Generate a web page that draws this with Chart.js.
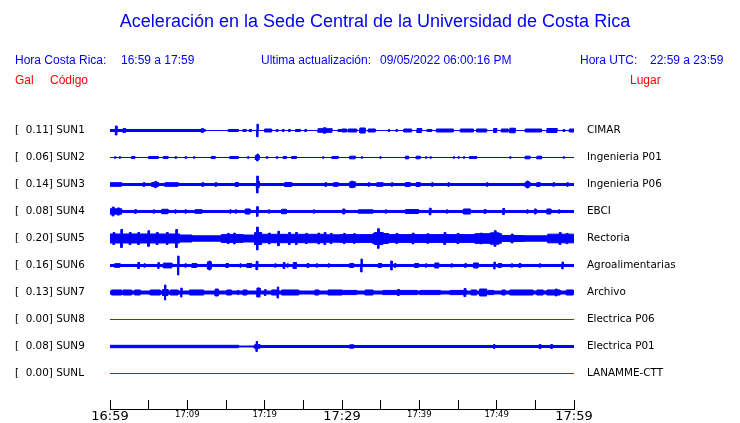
<!DOCTYPE html>
<html><head><meta charset="utf-8">
<style>html,body{margin:0;padding:0;background:#fff;}canvas{display:block;}</style>
<script src="https://cdn.jsdelivr.net/npm/chart.js@4/dist/chart.umd.min.js"></script>
</head><body>
<canvas id="c" width="740" height="423"></canvas>
<script>
// ---------- DATA ----------
const TITLE = 'Aceleración en la Sede Central de la Universidad de Costa Rica';
const HEAD_CR_LABEL = 'Hora Costa Rica:';
const HEAD_CR_VALUE = '16:59 a 17:59';
const HEAD_UPD_LABEL = 'Ultima actualización:';
const HEAD_UPD_VALUE = '09/05/2022 06:00:16 PM';
const HEAD_UTC_LABEL = 'Hora UTC:';
const HEAD_UTC_VALUE = '22:59 a 23:59';
const COL_GAL = 'Gal';
const COL_CODE = 'Código';
const COL_PLACE = 'Lugar';

const CODES  = ['SUN1','SUN2','SUN3','SUN4','SUN5','SUN6','SUN7','SUN8','SUN9','SUNL'];
const PEAKS  = [0.11, 0.06, 0.14, 0.08, 0.20, 0.16, 0.13, 0.00, 0.08, 0.00];
const PLACES = ['CIMAR','Ingenieria P01','Ingenieria P06','EBCI','Rectoria','Agroalimentarias','Archivo','Electrica P06','Electrica P01','LANAMME-CTT'];

const TICK_MINUTES = [0,5,10,15,20,25,30,35,40,45,50,55,60];
const TICK_LABELS  = ['16:59','','17:09','','17:19','','17:29','','17:39','','17:49','','17:59'];
const BIG_TICKS    = [0,30,60];

// envelope of each record, in Gal: background [startMin, endMin, halfAmp]
// and bursts [startMin, endMin, halfAmp] (minutes after 16:59)
const SUN1_BG = [[0,12.3,0.017],[12.3,60,0]];
const SUN1_BURSTS = [[0.7,0.9,0.075],[1.7,2.0,0.033],[11.8,12.1,0.03],[15.3,16.6,0.017],[17.2,17.6,0.017],[18.0,18.3,0.017],[19.0,19.15,0.105],[20.0,20.9,0.025],[21.5,21.7,0.017],[22.3,22.5,0.017],[23.1,23.3,0.017],[24.0,24.6,0.017],[25.2,25.4,0.017],[26.9,28.7,0.03],[27.6,27.9,0.045],[29.5,30.4,0.017],[30.0,30.6,0.025],[30.8,31.9,0.025],[32.3,33.0,0.042],[33.4,34.3,0.025],[36.0,36.15,0.017],[37.0,37.15,0.017],[38.0,39.0,0.025],[39.7,40.3,0.033],[41.0,41.6,0.017],[42.2,44.4,0.025],[45.3,47.0,0.025],[47.4,48.7,0.025],[49.6,50.0,0.033],[50.6,51.5,0.025],[51.7,52.4,0.038],[53.7,55.8,0.025],[56.5,57.8,0.033],[58.6,58.8,0.017],[59.4,60,0.025]];

const SUN2_BG = [[0,60,0]];
const SUN2_BURSTS = [[0.6,0.75,0.012],[1.2,1.35,0.012],[2.8,3.2,0.017],[5.0,6.25,0.017],[6.9,7.5,0.017],[8.4,8.6,0.012],[9.7,9.9,0.012],[10.8,10.95,0.012],[13.1,13.6,0.017],[15.5,16.6,0.017],[17.8,17.95,0.012],[18.8,19.3,0.035],[19.0,19.15,0.058],[20.2,20.4,0.012],[21.5,21.7,0.012],[22.4,22.8,0.017],[23.5,24.1,0.017],[27.5,27.65,0.012],[28.7,29.5,0.017],[31.0,31.7,0.022],[32.5,32.65,0.012],[34.9,35.05,0.012],[38.2,38.6,0.022],[39.6,40.1,0.022],[40.8,40.95,0.012],[41.4,41.55,0.012],[44.4,44.55,0.012],[45.0,45.15,0.012],[45.7,45.85,0.012],[46.5,47.4,0.017],[51.7,51.85,0.012],[53.7,54.3,0.022],[55.2,55.8,0.022],[58.6,58.75,0.012]];

const SUN3_BG = [[0,60,0.017]];
const SUN3_BURSTS = [[0,1.5,0.03],[4.3,4.5,0.03],[5.4,6.25,0.035],[5.8,6.0,0.053],[7.1,8.8,0.03],[11.9,12.1,0.03],[13.6,13.8,0.03],[16.2,16.6,0.033],[18.9,19.3,0.05],[19.0,19.15,0.14],[22.6,23.5,0.033],[27.8,28.0,0.03],[28.9,29.5,0.03],[31.0,31.7,0.045],[31.2,31.4,0.055],[33.4,33.55,0.03],[34.5,35.3,0.03],[36.4,36.55,0.03],[38.2,38.8,0.033],[39.6,40.1,0.033],[41.6,41.75,0.03],[43.7,43.85,0.03],[48.7,48.85,0.03],[53.7,54.3,0.04],[53.9,54.1,0.058],[55.2,55.6,0.033],[57.3,57.45,0.03],[59.1,59.25,0.03]];

const SUN4_BG = [[0,60,0.017]];
const SUN4_BURSTS = [[0,1.5,0.045],[0.3,0.5,0.075],[1.0,1.2,0.06],[3.2,3.4,0.03],[5.6,5.75,0.028],[6.7,7.5,0.037],[8.4,8.55,0.028],[9.7,9.85,0.028],[11.0,11.9,0.03],[15.5,15.65,0.028],[16.2,16.35,0.028],[17.5,18.1,0.042],[18.95,19.15,0.08],[20.5,20.65,0.028],[22.2,22.8,0.037],[26.3,26.45,0.028],[30.1,30.35,0.042],[32.1,34.0,0.028],[35.6,35.75,0.028],[38.2,39.9,0.033],[41.3,41.5,0.055],[43.5,43.65,0.028],[45.7,46.6,0.042],[48.4,48.6,0.033],[50.8,51.0,0.05],[53.9,54.05,0.028],[54.9,55.1,0.042],[56.5,57.0,0.042],[58.0,58.15,0.028]];

const SUN5_BG = [[0,9,0.075],[9,10.6,0.058],[10.6,14.4,0.045],[14.4,17.2,0.065],[17.2,18.8,0.058],[18.8,27.8,0.07],[27.8,29.7,0.062],[29.7,34,0.065],[34,36,0.083],[36,47.2,0.065],[47.2,50.6,0.08],[50.6,53.5,0.05],[53.5,56.6,0.045],[56.6,60,0.072]];
const SUN5_BURSTS = [[0.4,0.6,0.1],[1.4,1.6,0.15],[2.5,2.7,0.1],[3.6,3.8,0.1],[4.9,5.1,0.13],[6.0,6.2,0.1],[7.3,7.5,0.1],[8.5,8.7,0.15],[15.2,15.4,0.085],[16.0,16.2,0.09],[18.7,19.6,0.1],[18.95,19.15,0.19],[20.5,20.7,0.09],[21.7,21.9,0.12],[23.1,23.3,0.1],[24.0,24.2,0.1],[25.3,25.5,0.085],[26.9,27.1,0.09],[27.7,27.9,0.1],[28.5,28.7,0.085],[30.2,30.4,0.085],[31.5,31.7,0.08],[34.2,35.3,0.1],[34.6,34.8,0.163],[37.0,37.2,0.085],[39.1,39.3,0.09],[41.0,41.2,0.08],[43.2,43.4,0.1],[44.9,45.1,0.085],[47.9,48.1,0.09],[49.2,50.3,0.095],[49.7,49.9,0.13],[51.9,52.1,0.075],[58.1,58.3,0.1],[59.0,59.2,0.085]];

const SUN6_BG = [[0,60,0.017]];
const SUN6_BURSTS = [[0.6,1.3,0.03],[3.6,3.8,0.05],[4.4,4.55,0.028],[6.2,6.35,0.05],[6.9,8.0,0.04],[8.75,8.9,0.158],[9.7,9.85,0.028],[10.6,11.2,0.033],[12.6,13.1,0.06],[12.8,12.95,0.075],[15.0,15.3,0.033],[16.8,16.95,0.028],[17.7,18.3,0.033],[18.9,19.1,0.07],[21.3,21.45,0.028],[22.4,22.6,0.05],[22.9,23.05,0.028],[23.7,24.1,0.05],[25.5,25.7,0.033],[26.7,26.85,0.028],[28.2,28.35,0.028],[31.0,31.5,0.033],[32.45,32.6,0.108],[34.7,35.1,0.033],[36.3,36.5,0.075],[36.8,36.95,0.033],[39.4,39.9,0.033],[40.8,40.95,0.028],[42.0,42.5,0.042],[44.1,44.25,0.028],[45.9,46.05,0.033],[47.0,47.6,0.042],[49.65,49.8,0.058],[50.2,50.6,0.033],[51.9,52.05,0.028],[52.9,53.1,0.033],[55.5,55.65,0.028],[58.45,58.6,0.058]];

const SUN7_BG = [[0,60,0.025]];
const SUN7_BURSTS = [[0.2,1.5,0.042],[1.7,2.8,0.042],[3.2,3.9,0.042],[5.2,6.5,0.042],[6.8,7.5,0.05],[7.05,7.2,0.125],[7.8,8.8,0.042],[9.15,9.3,0.075],[10.3,12.1,0.042],[13.6,14.0,0.058],[15.1,15.7,0.042],[16.5,16.65,0.035],[17.2,17.7,0.042],[19.0,19.4,0.075],[20.0,20.15,0.05],[20.9,21.6,0.042],[21.65,21.8,0.092],[22.2,24.4,0.042],[26.5,27.0,0.042],[28.2,30.0,0.042],[29.7,31.9,0.035],[33.0,34.0,0.042],[35.3,39.7,0.035],[37.2,37.4,0.05],[40.1,42.7,0.035],[44.0,46.1,0.035],[45.8,46.0,0.067],[46.7,47.4,0.042],[47.8,48.7,0.058],[48.9,49.6,0.035],[50.7,51.1,0.042],[51.7,54.7,0.042],[55.2,56.0,0.042],[56.5,58.2,0.042],[57.6,57.8,0.058],[59.0,59.9,0.042]];

const SUN8_BG = null;
const SUN8_BURSTS = null;

const SUN9_BG = [[0,16.6,0.02],[16.6,18.6,0.008],[18.6,60,0.017]];
const SUN9_BURSTS = [[18.7,19.4,0.03],[18.9,19.05,0.083],[31.0,31.5,0.028],[49.6,49.75,0.033],[55.5,55.7,0.033],[57.0,57.2,0.033]];

const SUNL_BG = null;
const SUNL_BURSTS = null;

// ---------- BUILD ----------
const TRACE_BG = [SUN1_BG,SUN2_BG,SUN3_BG,SUN4_BG,SUN5_BG,SUN6_BG,SUN7_BG,SUN8_BG,SUN9_BG,SUNL_BG];
const TRACE_BURSTS = [SUN1_BURSTS,SUN2_BURSTS,SUN3_BURSTS,SUN4_BURSTS,SUN5_BURSTS,SUN6_BURSTS,SUN7_BURSTS,SUN8_BURSTS,SUN9_BURSTS,SUNL_BURSTS];

const ROW = 0.45;           // Gal between record baselines
const BLUE = '#0000ff';
const RED_LINE = '#e00000';

function steps(bg, bursts){
  const segs = bg.concat(bursts);
  const cuts = new Set([0,60]);
  segs.forEach(s => { cuts.add(s[0]); cuts.add(s[1]); });
  const xs = [...cuts].filter(v => v >= 0 && v <= 60).sort((a,b)=>a-b);
  const out = [];
  for (let k = 0; k < xs.length-1; k++){
    const a = xs[k], b = xs[k+1], mid = (a+b)/2;
    let amp = 0;
    segs.forEach(s => { if (s[0] <= mid && mid < s[1] && s[2] > amp) amp = s[2]; });
    if (out.length && out[out.length-1][2] === amp) out[out.length-1][1] = b;
    else out.push([a,b,amp]);
  }
  return out;
}

const datasets = [];
CODES.forEach((code, i) => {
  const off = -i*ROW;
  const bg = TRACE_BG[i];
  if (!bg){
    datasets.push({label: code, data: [{x:0,y:off},{x:60,y:off}], borderColor: RED_LINE, borderWidth: 1, pointRadius: 0, fill: false, xAxisID:'x', yAxisID:'y'});
    return;
  }
  const st = steps(bg, TRACE_BURSTS[i]);
  const up = [], lo = [];
  st.forEach(s => {
    up.push({x:s[0], y:off+s[2]}, {x:s[1], y:off+s[2]});
    lo.push({x:s[0], y:off-s[2]}, {x:s[1], y:off-s[2]});
  });
  datasets.push({label: code, data: up, borderColor: BLUE, backgroundColor: BLUE, borderWidth: 1, pointRadius: 0, tension: 0, fill: '+1', xAxisID:'x', yAxisID:'y'});
  datasets.push({label: code, data: lo, borderColor: BLUE, backgroundColor: BLUE, borderWidth: 1, pointRadius: 0, tension: 0, fill: false, xAxisID:'x', yAxisID:'y'});
});

// half-pixel shift so 1px traces land on whole pixel rows
const crispPlugin = {
  id: 'crisp',
  beforeDatasetsDraw(chart){ chart.ctx.save(); chart.ctx.translate(0, 0.5); },
  afterDatasetsDraw(chart){ chart.ctx.restore(); }
};

const textPlugin = {
  id: 'headerTexts',
  afterDraw(chart){
    const c = chart.ctx;
    c.save();
    c.textBaseline = 'middle';
    c.fillStyle = BLUE;
    c.font = '18px "Liberation Sans"';
    c.textAlign = 'center';
    c.fillText(TITLE, 375, 22);
    c.textAlign = 'left';
    c.font = '12px "Liberation Sans"';
    c.fillText(HEAD_CR_LABEL, 15, 61);
    c.fillText(HEAD_CR_VALUE, 121, 61);
    c.fillText(HEAD_UPD_LABEL, 261, 61);
    c.fillText(HEAD_UPD_VALUE, 380, 61);
    c.fillText(HEAD_UTC_LABEL, 580, 61);
    c.fillText(HEAD_UTC_VALUE, 650, 61);
    c.fillStyle = '#ff0000';
    c.fillText(COL_GAL, 15, 81);
    c.fillText(COL_CODE, 50, 81);
    c.fillText(COL_PLACE, 630, 81);
    c.restore();
  }
};

const LABEL_FONT = {family: 'DejaVu Sans', size: 10.4};

new Chart(document.getElementById('c'), {
  type: 'line',
  data: { datasets },
  options: {
    responsive: false, animation: false, devicePixelRatio: 1,
    layout: { padding: { top: 103, left: 15, right: 0, bottom: 0 } },
    plugins: { legend: {display:false}, tooltip: {enabled:false}, title: {display:false}, filler: {propagate: false} },
    scales: {
      x: {
        type: 'linear', position: 'bottom', min: 0, max: 60, weight: 0,
        afterFit(s){ s.height = 9; },
        afterBuildTicks(s){ s.ticks = TICK_MINUTES.map(v => ({value: v})); },
        ticks: { display: false },
        grid: { display: true, drawOnChartArea: false, drawTicks: true, tickLength: 9, color: '#000', lineWidth: 1 },
        border: { display: false }
      },
      x2: {
        type: 'linear', position: 'bottom', min: 0, max: 60, weight: 1,
        afterFit(s){ s.height = 14; },
        afterBuildTicks(s){ s.ticks = TICK_MINUTES.map(v => ({value: v})); },
        ticks: {
          autoSkip: false, maxRotation: 0, minRotation: 0, padding: 1, color: '#000',
          font: (ctx) => (ctx.tick && BIG_TICKS.includes(ctx.tick.value)) ? {family:'DejaVu Sans', size: 13, lineHeight: 1} : {family:'DejaVu Sans', size: 8.5},
          callback: (v) => TICK_LABELS[TICK_MINUTES.indexOf(v)]
        },
        grid: { display: false, drawTicks: false, tickLength: 0 },
        border: { display: true, color: '#000', width: 1 }
      },
      y: {
        type: 'linear', position: 'left', min: -10*ROW, max: ROW,
        afterFit(s){ s.width = 95; },
        afterBuildTicks(s){ s.ticks = CODES.map((c,i) => ({value: -i*ROW})); },
        ticks: { autoSkip: false, crossAlign: 'far', padding: 0, color: '#000', font: LABEL_FONT,
          callback: (v, idx) => '[  ' + PEAKS[idx].toFixed(2) + '] ' + CODES[idx] },
        grid: { display: false, drawTicks: false }, border: { display: false }
      },
      y2: {
        type: 'linear', position: 'right', min: -10*ROW, max: ROW,
        afterFit(s){ s.width = 166; },
        afterBuildTicks(s){ s.ticks = PLACES.map((c,i) => ({value: -i*ROW})); },
        ticks: { autoSkip: false, crossAlign: 'near', padding: 13, color: '#000', font: LABEL_FONT,
          callback: (v, idx) => PLACES[idx] },
        grid: { display: false, drawTicks: false }, border: { display: false }
      }
    }
  },
  plugins: [crispPlugin, textPlugin]
});
</script>
</body></html>
